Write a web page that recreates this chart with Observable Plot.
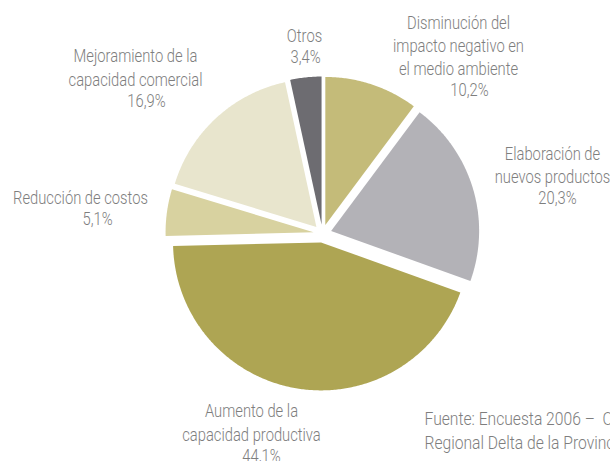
<!DOCTYPE html>
<html>
<head>
<meta charset="utf-8">
<script src="https://cdn.jsdelivr.net/npm/d3@7"></script>
<script src="https://cdn.jsdelivr.net/npm/@observablehq/plot@0.6"></script>
<style>
  html, body { margin: 0; padding: 0; background: #fff; overflow: hidden; }
  #chart { width: 610px; height: 461px; }
</style>
</head>
<body>
<div id="chart"></div>
<script>
// Objetivos de la innovación (% de respuestas), en sentido horario desde arriba
const categories = [
  "Disminución del impacto negativo en el medio ambiente",
  "Elaboración de nuevos productos",
  "Aumento de la capacidad productiva",
  "Reducción de costos",
  "Mejoramiento de la capacidad comercial",
  "Otros"
];
const shares = [10.2, 20.3, 44.1, 5.1, 16.9, 3.4];
const labelLines = [
  "Disminución del\nimpacto negativo en\nel medio ambiente",
  "Elaboración de\nnuevos productos",
  "Aumento de la\ncapacidad productiva",
  "Reducción de costos",
  "Mejoramiento de la\ncapacidad comercial",
  "Otros"
];
const sourceText = "Fuente: Encuesta 2006 –  Oficina\nRegional Delta de la Provincia";

// Estilo
const sliceColors = ["#c4bb79", "#b3b2b7", "#aea553", "#d8d2a0", "#e8e5cd", "#6d6c71"];
const textColor = "#7e7e7e";
const font = "Roboto, 'Noto Sans', sans-serif";
const condense = 0.82;       // estrechamiento horizontal de los rótulos
const condenseSource = 0.87; // estrechamiento de la nota de fuente

// Geometría del gráfico (px)
const W = 610, H = 461;
const cx = 322, cy = 233, R = 148, explodePx = 9;
// Posición de cada rótulo respecto del centro (px): bloque de texto y porcentaje
const labelSpots = [
  {name: [136, -189], pct: [147, -143]},
  {name: [230, -69.5], pct: [235, -35]},
  {name: [-71, 188], pct: [-61, 223]},
  {name: [-242, -37], pct: [-225, -14]},
  {name: [-187, -167], pct: [-176, -132]},
  {name: [-18, -199], pct: [-17, -176]}
];
const sourceSpot = [424 - cx, 429 - cy];

const fmt = v => v.toFixed(1).replace(".", ",") + "%";

// Sectores: cada uno desplazado hacia afuera sobre su ángulo medio (radio unitario)
const arcs = d3.pie().sort(null).value(d => d)(shares);
const e = explodePx / R;
const slicePoints = [];
arcs.forEach((a, i) => {
  const mid = (a.startAngle + a.endAngle) / 2;
  const ox = e * Math.sin(mid), oy = e * Math.cos(mid);
  const name = categories[i];
  slicePoints.push({name, x: ox, y: oy});
  const n = Math.max(4, Math.ceil((a.endAngle - a.startAngle) / 0.01));
  for (let k = 0; k <= n; k++) {
    const t = a.startAngle + (a.endAngle - a.startAngle) * k / n;
    slicePoints.push({name, x: ox + Math.sin(t), y: oy + Math.cos(t)});
  }
  slicePoints.push({name, x: ox, y: oy});
});

const px2x = p => p / R;
const px2y = p => -p / R;

const nameLabels = categories.map((c, i) => ({
  text: labelLines[i], x: px2x(labelSpots[i].name[0]), y: px2y(labelSpots[i].name[1])
}));
const pctLabels = shares.map((v, i) => ({
  text: fmt(v), x: px2x(labelSpots[i].pct[0]), y: px2y(labelSpots[i].pct[1])
}));

const textStyle = {fill: textColor, fontSize: 18, fontWeight: 300};

const chart = Plot.plot({
  width: W,
  height: H,
  margin: 0,
  x: {domain: [-cx / R, (W - cx) / R], range: [0, W], axis: null},
  y: {domain: [cy / R, (cy - H) / R], range: [0, H], axis: null},
  color: {domain: categories, range: sliceColors},
  style: {fontFamily: font, background: "#fff"},
  marks: [
    Plot.line(slicePoints, {x: "x", y: "y", z: "name", fill: "name", stroke: "none", curve: "linear"}),
    Plot.text(nameLabels, {
      x: "x", y: "y", text: "text", ...textStyle, className: "rotulo",
      textAnchor: "middle", lineAnchor: "middle", lineHeight: 1.29
    }),
    Plot.text(pctLabels, {
      x: "x", y: "y", text: "text", ...textStyle, className: "rotulo",
      textAnchor: "middle", lineAnchor: "middle"
    }),
    Plot.text([{text: sourceText, x: px2x(sourceSpot[0]), y: px2y(sourceSpot[1])}], {
      x: "x", y: "y", text: "text", ...textStyle, className: "fuente",
      textAnchor: "start", lineAnchor: "middle", lineHeight: 1.29
    })
  ]
});

// Tipografía condensada: cada texto se estrecha alrededor de su punto de anclaje
const narrow = (sel, k) => chart.querySelectorAll(sel).forEach(t => {
  const tr = t.getAttribute("transform") || "";
  t.setAttribute("transform", `${tr} scale(${k},1)`);
});
narrow(".rotulo text", condense);
narrow(".fuente text", condenseSource);

document.getElementById("chart").appendChild(chart);
</script>
</body>
</html>
